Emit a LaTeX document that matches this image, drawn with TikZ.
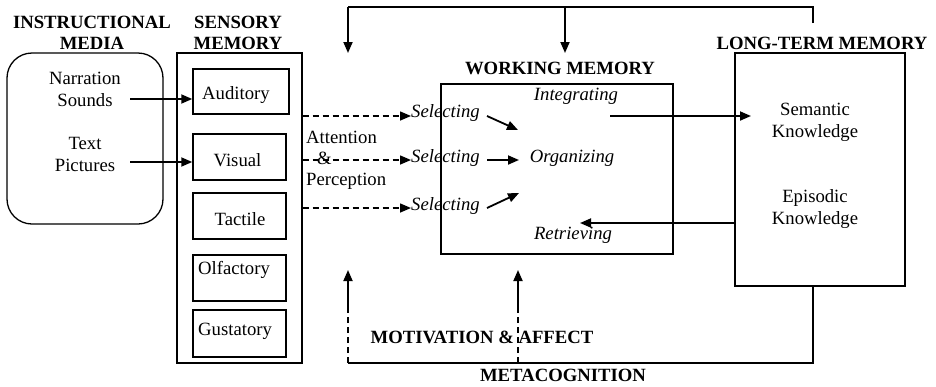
\documentclass[tikz,border=0pt]{standalone}
\usepackage{fontspec}
\setmainfont{Liberation Serif}
\usetikzlibrary{arrows.meta,calc}
\begin{document}
\begin{tikzpicture}[x=1pt,y=-1pt,
  font=\fontsize{18.7}{22}\selectfont,
  box/.style={draw, line width=1.3pt, inner sep=0pt},
  sbox/.style={draw, line width=1.5pt, minimum width=93pt, minimum height=46pt, inner sep=0pt},
  ttl/.style={font=\fontsize{18.7}{21}\selectfont\bfseries, align=center, inner sep=0pt},
  lbl/.style={align=center, inner sep=0pt},
  itl/.style={font=\fontsize{18.7}{22}\selectfont\itshape, inner sep=0pt},
  arr/.style={-{Triangle[length=11pt,width=9pt]}, line width=1.8pt},
  darr/.style={arr, line width=1.5pt, dash pattern=on 6pt off 4pt},
  fb/.style={line width=1.6pt},
  fbd/.style={line width=1.6pt, dash pattern=on 6pt off 4pt}]
\useasboundingbox (0,0) rectangle (936,386);

% titles
\node[ttl] (tim) at (92,32.5) {INSTRUCTIONAL\\MEDIA};
\node[ttl] (tsm) at (238,32.5) {SENSORY\\MEMORY};
\node[ttl] (twm) at (560,68) {WORKING MEMORY};
\node[ttl] (tltm) at (822,43) {LONG-TERM MEMORY};

% main boxes
\node[box, rounded corners=25pt, minimum width=156pt, minimum height=171pt] (im) at (85,138.5) {};
\node[box, minimum width=125pt, minimum height=310pt] (sm) at (239.5,208) {};
\node[box, minimum width=232pt, minimum height=170pt] (wm) at (557,169) {};
\node[box, minimum width=170pt, minimum height=233pt] (ltm) at (820,169.5) {};

% instructional media
\node[lbl] (narr) at (85,89) {Narration\\Sounds};
\node[lbl] (txt) at (85,154) {Text\\Pictures};

% sensory boxes
\node[sbox, minimum width=96pt, minimum height=45pt] (aud) at (241,91.5) {};
\node[lbl] at (236,95) {Auditory};
\node[sbox] (vis) at (239.5,157) {};
\node[lbl] at (237.5,160) {Visual};
\node[sbox] (tac) at (239.5,216) {};
\node[lbl] at (240,219) {Tactile};
\node[sbox] (olf) at (239.5,278) {};
\node[lbl, anchor=west] at (198,270) {Olfactory};
\node[sbox, minimum height=47pt] (gus) at (239.5,333.5) {};
\node[lbl, anchor=west] at (198,331) {Gustatory};

% media -> sensory
\coordinate (ns) at (130,99);
\coordinate (tp) at (130,162);
\draw[arr] (ns) -- (ns -| aud.west);
\draw[arr] (tp) -- (tp -| vis.west);

% attention & perception
\node[lbl, align=left, anchor=west] (att) at (306,160) {Attention\\[-1pt]\hspace*{11pt}\&\\[-1pt]Perception};

% selecting
\node[itl, anchor=west] (s1) at (411,113) {Selecting};
\node[itl, anchor=west] (s2) at (411,158) {Selecting};
\node[itl, anchor=west] (s3) at (411,206) {Selecting};
\coordinate (d1) at (sm.east |- 0,116);
\coordinate (d2) at (sm.east |- 0,160);
\coordinate (d3) at (sm.east |- 0,208);
\draw[darr] (d1) -- (d1 -| s1.west);
\draw[darr] (d2) -- (d2 -| s2.west);
\draw[darr] (d3) -- (d3 -| s3.west);

% working memory content
\node[itl] (int) at (576,96) {Integrating};
\node[itl] (org) at (572,158) {Organizing};
\node[itl] (ret) at (573,235) {Retrieving};
\coordinate (a1) at (487,116); \coordinate (e1) at (518,130);
\coordinate (a2) at (487,160); \coordinate (e2) at (519,160);
\coordinate (a3) at (487,208); \coordinate (e3) at (519,193);
\draw[arr] (a1) -- (e1);
\draw[arr] (a2) -- (e2);
\draw[arr] (a3) -- (e3);

% long-term memory content
\node[lbl] (sem) at (815,122) {Semantic\\Knowledge};
\node[lbl] (epi) at (815,209) {Episodic\\Knowledge};

% WM <-> LTM
\coordinate (ia) at (610,116); \coordinate (ie) at (751,116);
\draw[arr] (ia) -- (ie);
\coordinate (ra) at (ltm.west |- 0,223); \coordinate (re) at (580,223);
\draw[arr] (ra) -- (re);

% top feedback
\coordinate (t0) at (813,23);
\coordinate (tl) at (348,7);
\coordinate (tm) at (565,7);
\coordinate (tle) at (348,53);
\coordinate (tme) at (565,53);
\draw[fb] (t0) |- (tl);
\draw[arr] (tl) -- (tle);
\draw[arr] (tm) -- (tme);

% bottom feedback
\coordinate (b0) at (813,286);
\coordinate (bl) at (348,363);
\coordinate (bm) at (518,363);
\coordinate (bl1) at (348,310); \coordinate (bl2) at (348,270);
\coordinate (bm1) at (518,310); \coordinate (bm2) at (518,270);
\draw[fb] (b0) |- (bl);
\draw[fbd] (bl) -- (bl1);
\draw[fbd] (bm) -- (bm1);
\draw[arr] (bl1) -- (bl2);
\draw[arr] (bm1) -- (bm2);

\node[ttl] (mot) at (482,337) {MOTIVATION \& AFFECT};
\node[ttl] (meta) at (563,375) {METACOGNITION};
\end{tikzpicture}
\end{document}
